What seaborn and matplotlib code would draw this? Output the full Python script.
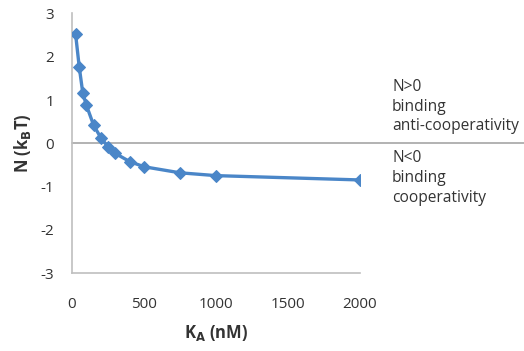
import matplotlib
matplotlib.use("Agg")
import matplotlib.pyplot as plt
import seaborn as sns
import pandas as pd

ka_nM = [25, 50, 75, 100, 150, 200, 250, 300, 400, 500, 750, 1000, 2000]
n_kbt = [2.52, 1.77, 1.16, 0.88, 0.42, 0.13, -0.08, -0.23, -0.42, -0.54, -0.68, -0.745, -0.845]
x_ticks = [0, 500, 1000, 1500, 2000]
y_ticks = [-3, -2, -1, 0, 1, 2, 3]
annot_pos = ["N>0", "binding", "anti-cooperativity"]
annot_neg = ["N<0", "binding", "cooperativity"]

df = pd.DataFrame({"KA": ka_nM, "N": n_kbt})

sns.set_style("white")
plt.rcParams["font.family"] = ["Open Sans", "DejaVu Sans"]

fig = plt.figure(figsize=(5.24, 3.51), dpi=100)
W, H = 524, 351
left, right, top, bottom = 72, 360, 13.4, 273.3
ax = fig.add_axes([left / W, 1 - bottom / H, (right - left) / W, (bottom - top) / H])

grey = "#bfbfbf"
ax.axhline(0, xmin=0, xmax=(524 - left) / (right - left), color="#a6a6a6", lw=1.2,
           clip_on=False, zorder=1)

sns.lineplot(data=df, x="KA", y="N", ax=ax, color="#4a86c8", lw=2.4, marker="D",
             markersize=6.5, markeredgecolor="#4a86c8", zorder=3)

ax.set_xlim(0, 2000)
ax.set_ylim(-3, 3)
ax.set_xticks(x_ticks)
ax.set_yticks(y_ticks)
ax.set_xticklabels([str(v) for v in x_ticks], fontsize=11, color="#333333")
ax.set_yticklabels([str(v) for v in y_ticks], fontsize=11, color="#333333")
for s in ["top", "right"]:
    ax.spines[s].set_visible(False)
for s in ["left", "bottom"]:
    ax.spines[s].set_color(grey)
    ax.spines[s].set_linewidth(1.2)
ax.tick_params(axis="both", direction="out", length=5, width=1.2, color=grey, pad=12)
ax.tick_params(axis="y", pad=8)

ax.set_xlabel(r"K$_\mathbf{A}$ (nM)", fontsize=12, fontweight="bold", color="#333333",
              labelpad=8)
ax.set_ylabel(r"N (k$_\mathbf{B}$T)", fontsize=12, fontweight="bold", color="#333333",
              labelpad=5)

y0 = 87
for i, t in enumerate(annot_pos):
    fig.text(392 / W, 1 - (y0 + i * 19.7) / H, t, fontsize=11.2, color="#333333",
             va="center", ha="left")
y1 = 158
for i, t in enumerate(annot_neg):
    fig.text(392 / W, 1 - (y1 + i * 20) / H, t, fontsize=11.2, color="#333333",
             va="center", ha="left")

fig.savefig("out.png", dpi=100)
